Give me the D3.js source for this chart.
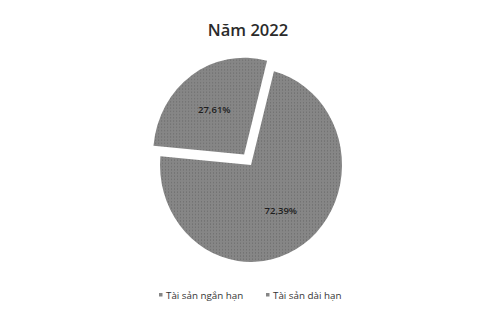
<!DOCTYPE html>
<html>
<head>
<meta charset="utf-8">
<script src="https://cdn.jsdelivr.net/npm/d3@7"></script>
<style>
  html, body { margin: 0; padding: 0; background: #fff; }
  svg { display: block; }
</style>
</head>
<body>
<svg id="chart" width="483" height="312"></svg>
<script>
const categories = ['Tài sản ngắn hạn', 'Tài sản dài hạn'];
const values = [72.39, 27.61];
const labels = ['72,39%', '27,61%'];
const exploded = [false, true];
const title = 'Năm 2022';

const W = 483, H = 312;
const cx = 251, cy = 165, r = 91, yStretch = 1.065;
const explodeDist = 12;
const fill = '#868686';

const svg = d3.select('#chart');

// halftone dot texture like the scanned print
const defs = svg.append('defs');
const pat = defs.append('pattern')
  .attr('id', 'dots')
  .attr('width', 3).attr('height', 3)
  .attr('patternUnits', 'userSpaceOnUse');
pat.append('rect').attr('width', 3).attr('height', 3).attr('fill', fill);
pat.append('rect').attr('x', 1).attr('y', 1).attr('width', 1).attr('height', 1).attr('fill', '#6a6a6a');

svg.append('text')
  .attr('x', 248).attr('y', 36)
  .attr('text-anchor', 'middle')
  .attr('font-family', 'Open Sans, sans-serif')
  .attr('font-size', 16.5)
  .attr('font-weight', 600)
  .attr('fill', '#2b2b2b')
  .text(title);

const pie = d3.pie().sort(null)
  .startAngle(14.6 * Math.PI / 180)
  .endAngle(14.6 * Math.PI / 180 + 2 * Math.PI);
const arcs = pie(values);
const arc = d3.arc().innerRadius(0).outerRadius(r);
const labelArc = d3.arc().innerRadius(r * 0.57).outerRadius(r * 0.57);

const g = svg.append('g')
  .attr('transform', `translate(${cx},${cy}) scale(1,${yStretch})`);

const slices = g.selectAll('g.slice')
  .data(arcs)
  .join('g')
  .attr('class', 'slice')
  .attr('transform', (d, i) => {
    if (!exploded[i]) return null;
    const a = (d.startAngle + d.endAngle) / 2;
    return `translate(${Math.sin(a) * explodeDist},${-Math.cos(a) * explodeDist})`;
  });

slices.append('path')
  .attr('d', arc)
  .attr('fill', 'url(#dots)');

slices.append('text')
  .attr('transform', d => {
    const [x, y] = labelArc.centroid(d);
    return `translate(${x},${y}) scale(1,${1 / yStretch})`;
  })
  .attr('text-anchor', 'middle')
  .attr('dy', '0.35em')
  .attr('font-family', 'Open Sans, sans-serif')
  .attr('font-size', 9.5)
  .attr('font-weight', 600)
  .attr('fill', '#1e1e1e')
  .text((d, i) => labels[i]);

// legend
const legendX = [159, 266];
const legend = svg.append('g');
categories.forEach((c, i) => {
  legend.append('rect')
    .attr('x', legendX[i]).attr('y', 293)
    .attr('width', 3.5).attr('height', 3.5)
    .attr('fill', fill);
  legend.append('text')
    .attr('x', legendX[i] + 7).attr('y', 298.5)
    .attr('font-family', 'Open Sans, sans-serif')
    .attr('font-size', 9.8)
    .attr('fill', '#333')
    .text(c);
});
</script>
</body>
</html>
